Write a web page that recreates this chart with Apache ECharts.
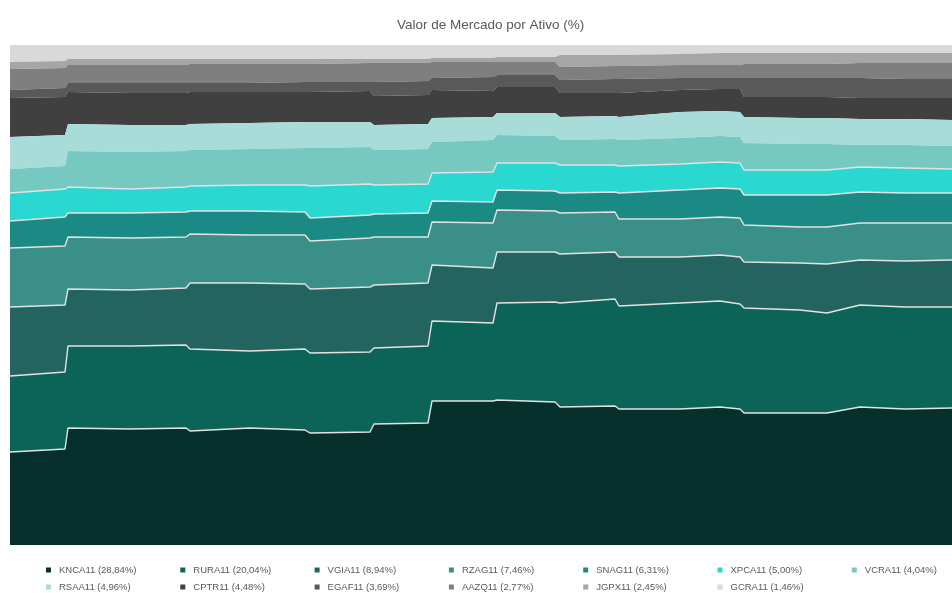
<!DOCTYPE html>
<html>
<head>
<meta charset="utf-8">
<script src="https://cdn.jsdelivr.net/npm/echarts@6/dist/echarts.min.js"></script>
<style>
  html, body { margin: 0; padding: 0; background: #ffffff; }
  #chart { width: 952px; height: 593px; }
</style>
</head>
<body>
<div id="chart"></div>
<script>
// ---- data (percent of market value per asset, by day index) ----
const dias = [0, 55, 58, 120, 176, 180, 240, 295, 300, 360, 364, 418, 422, 483, 487, 545, 550, 605, 609, 670, 710, 730, 734, 790, 817, 850, 895, 942];

const ativos = ['KNCA11', 'RURA11', 'VGIA11', 'RZAG11', 'SNAG11', 'XPCA11', 'VCRA11', 'RSAA11', 'CPTR11', 'EGAF11', 'AAZQ11', 'JGPX11', 'GCRA11'];
const legendaPct = ['28,84%', '20,04%', '8,94%', '7,46%', '6,31%', '5,00%', '4,04%', '4,96%', '4,48%', '3,69%', '2,77%', '2,45%', '1,46%'];

const KNCA11 = [18.6, 19.2, 23.4, 23.2, 23.4, 22.8, 23.4, 23.0, 22.4, 22.6, 24.2, 24.4, 28.8, 28.8, 29.0, 28.6, 27.6, 27.8, 27.2, 27.2, 27.6, 27.2, 26.4, 26.4, 26.4, 27.6, 27.2, 27.4];
const RURA11 = [15.2, 15.4, 16.4, 16.6, 16.6, 16.4, 15.4, 16.2, 16.0, 16.0, 15.2, 15.4, 16.0, 15.6, 19.4, 20.0, 20.8, 21.4, 20.6, 21.2, 21.2, 21.0, 21.0, 20.6, 20.0, 20.4, 20.4, 20.2];
const VGIA11 = [13.8, 13.4, 11.4, 11.2, 11.4, 13.2, 13.6, 13.0, 12.8, 13.0, 12.6, 12.6, 11.2, 11.0, 10.2, 10.0, 9.8, 9.4, 9.8, 9.2, 9.2, 9.4, 9.2, 9.4, 9.8, 9.0, 9.2, 9.4];
const RZAG11 = [11.8, 11.8, 10.4, 10.4, 10.2, 9.8, 9.6, 9.8, 9.6, 9.8, 9.6, 9.2, 8.6, 9.0, 8.4, 8.2, 8.2, 8.0, 7.6, 7.6, 7.6, 7.8, 7.4, 7.2, 7.4, 7.4, 7.6, 7.4];
const SNAG11 = [5.4, 5.8, 4.8, 5.0, 5.0, 4.6, 4.8, 4.6, 4.6, 4.6, 4.6, 4.8, 4.2, 4.2, 4.0, 4.0, 4.0, 4.0, 5.2, 5.8, 5.8, 5.8, 6.0, 6.4, 6.4, 6.2, 6.0, 6.0];
const XPCA11 = [5.6, 5.6, 5.2, 4.8, 5.0, 5.0, 5.2, 5.4, 6.4, 6.2, 5.8, 5.8, 5.6, 6.0, 5.4, 5.6, 5.6, 5.4, 5.4, 5.2, 5.2, 5.2, 5.0, 5.0, 5.0, 5.0, 5.0, 4.8];
const VCRA11 = [4.8, 4.6, 7.2, 7.4, 7.2, 7.2, 7.2, 7.4, 7.6, 7.4, 7.0, 7.0, 6.2, 6.4, 5.6, 5.4, 5.0, 5.2, 5.2, 5.2, 5.2, 5.2, 5.4, 5.2, 5.2, 4.4, 4.6, 4.6];
const RSAA11 = [6.4, 6.2, 5.4, 5.4, 5.2, 5.2, 5.2, 5.2, 5.2, 5.0, 5.0, 5.0, 4.8, 4.6, 4.4, 4.6, 4.6, 4.6, 4.6, 5.2, 5.0, 5.0, 5.2, 5.2, 5.2, 5.2, 5.2, 5.2];
const CPTR11 = [7.8, 7.6, 6.4, 6.4, 6.4, 6.4, 6.2, 6.0, 6.0, 6.2, 5.8, 5.8, 5.6, 5.2, 5.2, 5.2, 4.8, 4.6, 4.8, 4.4, 4.4, 4.6, 4.0, 4.2, 4.2, 4.2, 4.2, 4.4];
const EGAF11 = [1.6, 1.8, 1.8, 2.0, 2.0, 1.8, 1.8, 2.0, 2.0, 1.8, 2.8, 2.8, 2.4, 2.8, 2.4, 2.4, 2.6, 2.8, 2.8, 2.4, 2.2, 2.2, 3.8, 3.8, 3.8, 4.0, 3.8, 3.8];
const AAZQ11 = [4.2, 4.0, 3.6, 3.6, 3.6, 3.8, 3.8, 3.6, 3.6, 3.8, 3.8, 3.6, 3.2, 3.0, 2.6, 2.6, 2.6, 2.6, 2.6, 2.6, 2.6, 2.6, 2.8, 2.8, 2.8, 3.0, 3.2, 3.2];
const JGPX11 = [1.4, 1.4, 1.2, 1.2, 1.2, 1.0, 1.0, 1.0, 1.0, 0.8, 0.8, 0.8, 0.8, 0.8, 1.0, 1.0, 2.4, 2.2, 2.2, 2.2, 2.4, 2.4, 2.2, 2.2, 2.2, 2.0, 2.0, 2.0];
const GCRA11 = [3.4, 3.2, 2.8, 2.8, 2.8, 2.8, 2.8, 2.8, 2.8, 2.8, 2.8, 2.8, 2.6, 2.6, 2.4, 2.4, 2.0, 2.0, 2.0, 1.8, 1.6, 1.6, 1.6, 1.6, 1.6, 1.6, 1.6, 1.6];

const valores = [KNCA11, RURA11, VGIA11, RZAG11, SNAG11, XPCA11, VCRA11, RSAA11, CPTR11, EGAF11, AAZQ11, JGPX11, GCRA11];

// ---- styling ----
const cores = ['#07302c', '#0c6458', '#236460', '#3a8f88', '#1b8a84', '#2ad8d2', '#76c9c1', '#a8dcd8', '#404040', '#595959', '#7f7f7f', '#a6a6a6', '#d9d9d9'];
const comLinha = 6; // first 6 series have a light border line on top

const nomes = ativos.map((a, i) => a + ' (' + legendaPct[i] + ')');

const series = valores.map((vals, i) => ({
  name: nomes[i],
  type: 'line',
  stack: 'total',
  symbol: 'none',
  z: 30 - i,
  data: dias.map((d, j) => [d, vals[j]]),
  lineStyle: i < comLinha ? { color: '#e2e2e2', width: 1.4 } : { width: 0, opacity: 0 },
  areaStyle: { color: cores[i], opacity: 1 },
  itemStyle: { color: cores[i] },
  emphasis: { disabled: true }
}));

const legends = nomes.map((n, i) => ({
  data: [n],
  left: 46 + (i % 7) * 134.3,
  top: i < 7 ? 565 : 582,
  icon: 'rect',
  itemWidth: 5,
  itemHeight: 5,
  itemGap: 0,
  padding: 0,
  selectedMode: false,
  textStyle: { fontSize: 9.5, color: '#595959', fontFamily: 'Liberation Sans', padding: [0, 0, 0, 3] }
}));

const chart = echarts.init(document.getElementById('chart'), null, { renderer: 'canvas' });
chart.setOption({
  animation: false,
  backgroundColor: '#ffffff',
  color: cores,
  title: {
    text: 'Valor de Mercado por Ativo (%)',
    left: 392,
    top: 13,
    textStyle: { fontSize: 13.5, fontWeight: 'normal', color: '#595959', fontFamily: 'Liberation Sans' }
  },
  legend: legends,
  grid: { left: 10, right: 0, top: 45, bottom: 48 },
  xAxis: { type: 'time', min: 0, max: 942, show: false },
  yAxis: { type: 'value', min: 0, max: 100, show: false },
  series: series
});
</script>
</body>
</html>
